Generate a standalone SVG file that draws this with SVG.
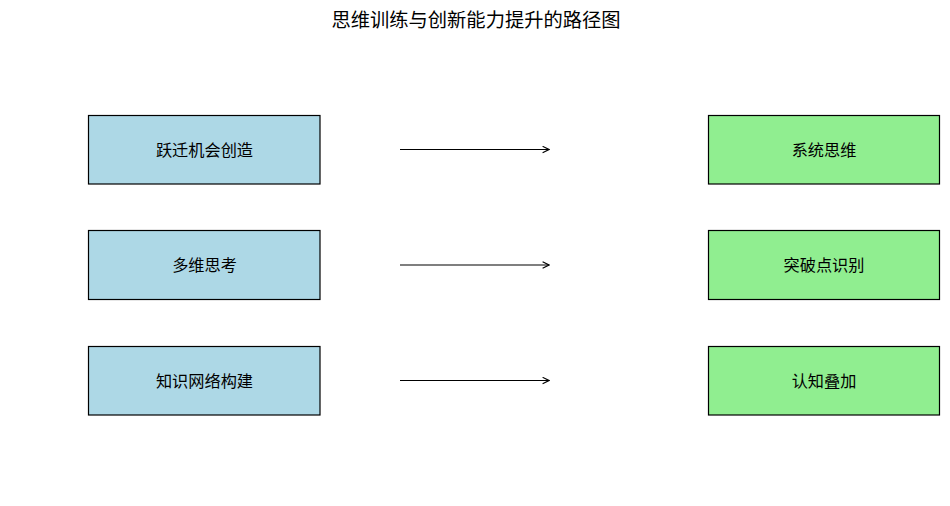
<svg xmlns="http://www.w3.org/2000/svg" width="950" height="506" viewBox="0 0 950 506">
<defs>
<style>
text{font-family:"Noto Sans CJK SC","DejaVu Sans",sans-serif;fill:#000;text-anchor:middle;dominant-baseline:central;font-weight:normal}
.t{font-size:19.3px}
.l{font-size:16.2px}
.b{fill:#add8e6;stroke:#000;stroke-width:1.2}
.g{fill:#90ee90;stroke:#000;stroke-width:1.2}
.c{stroke:#000;stroke-width:1.2;fill:none;marker-end:url(#ah)}
</style>
<marker id="ah" viewBox="0 0 10 10" refX="9" refY="5" markerWidth="8" markerHeight="8" markerUnits="userSpaceOnUse" orient="auto">
<path d="M1,1 L9,5 L1,9" fill="none" stroke="#000" stroke-width="1.4"/>
</marker>
</defs>
<rect width="950" height="506" fill="#fff"/>
<text class="t" x="476" y="18.5">思维训练与创新能力提升的路径图</text>
<g id="connectors">
<line class="c" x1="400" y1="149.5" x2="549" y2="149.5"/>
<line class="c" x1="400" y1="265" x2="549" y2="265"/>
<line class="c" x1="400" y1="380.5" x2="549" y2="380.5"/>
</g>
<g id="n1"><rect class="b" x="88.5" y="115.5" width="231.5" height="68.5"/><text class="l" x="204.5" y="148.5">跃迁机会创造</text></g>
<g id="n2"><rect class="b" x="88.5" y="230.5" width="231.5" height="69"/><text class="l" x="204.5" y="263.5">多维思考</text></g>
<g id="n3"><rect class="b" x="88.5" y="346.5" width="231.5" height="68.5"/><text class="l" x="204.5" y="379.5">知识网络构建</text></g>
<g id="n4"><rect class="g" x="708.5" y="115.5" width="231" height="68.5"/><text class="l" x="824" y="148.5">系统思维</text></g>
<g id="n5"><rect class="g" x="708.5" y="230.5" width="231" height="69"/><text class="l" x="824" y="263.5">突破点识别</text></g>
<g id="n6"><rect class="g" x="708.5" y="346.5" width="231" height="68.5"/><text class="l" x="824" y="379.5">认知叠加</text></g>
</svg>
